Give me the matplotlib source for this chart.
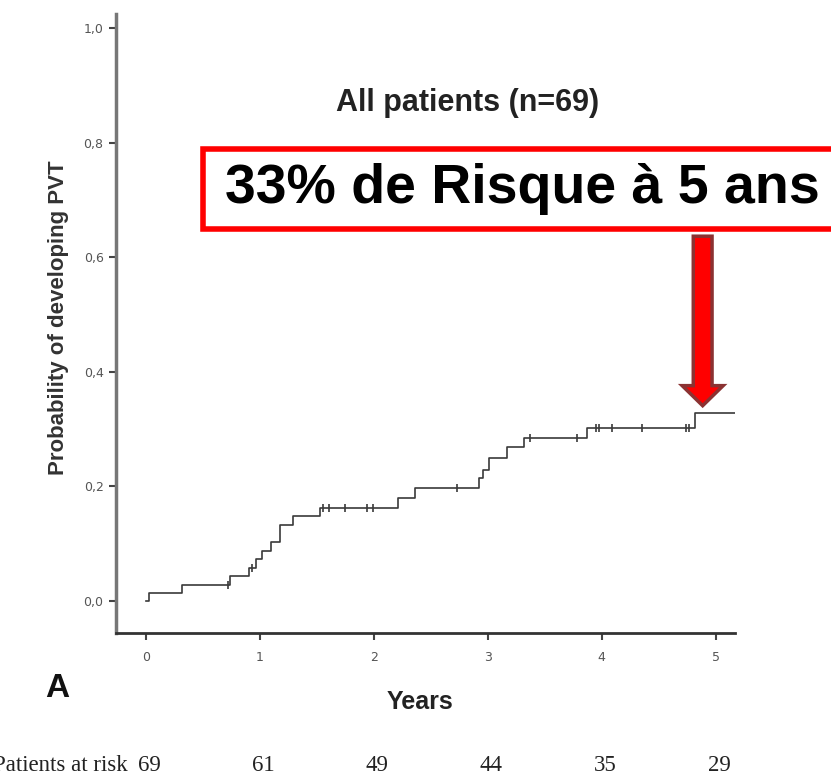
import matplotlib
matplotlib.use("Agg")
import matplotlib.pyplot as plt
from matplotlib.patches import Rectangle, FancyArrow
from matplotlib.ticker import FuncFormatter
import matplotlib.transforms as mtransforms

# Kaplan-Meier steps (cumulative probability of PVT)
event_years = [0.0, 0.03, 0.32, 0.74, 0.90, 0.97, 1.015, 1.10, 1.175, 1.29, 1.53,
               2.21, 2.36, 2.92, 2.96, 3.01, 3.17, 3.32, 3.87, 4.82, 5.17]
cum_prob = [0.0, 0.014, 0.028, 0.043, 0.058, 0.073, 0.088, 0.103, 0.133, 0.148, 0.162,
            0.179, 0.198, 0.214, 0.229, 0.250, 0.268, 0.284, 0.302, 0.328, 0.328]

# censored patients
censor_years = [0.72, 0.93, 1.55, 1.61, 1.745, 1.94, 1.99, 2.73, 3.37, 3.78,
                3.95, 3.98, 4.09, 4.35, 4.74, 4.77]
censor_prob = [0.028, 0.058, 0.162, 0.162, 0.162, 0.162, 0.162, 0.198, 0.284, 0.284,
               0.302, 0.302, 0.302, 0.302, 0.302, 0.302]

year_ticks = [0, 1, 2, 3, 4, 5]
at_risk = [69, 61, 49, 44, 35, 29]
prob_ticks = [0.0, 0.2, 0.4, 0.6, 0.8, 1.0]

risk_5y = 0.33

fig = plt.figure(figsize=(8.31, 7.84), dpi=100)
ax = fig.add_axes([0.1396, 0.1926, 0.7449, 0.7895])

ax.step(event_years, cum_prob, where="post", color="#3a3a3a", lw=1.2)
ax.plot(censor_years, censor_prob, linestyle="none", marker="|", color="#3a3a3a",
        markersize=6, markeredgewidth=1.2)

ax.set_xlim(-0.263, 5.17)
ax.set_ylim(-0.056, 1.025)
ax.set_xticks(year_ticks)
ax.set_yticks(prob_ticks)
ax.yaxis.set_major_formatter(FuncFormatter(lambda v, p: f"{v:.1f}".replace(".", ",")))
ax.tick_params(axis="both", direction="out", length=5, width=1.5, color="#444444",
               labelsize=9, labelcolor="#555555")
ax.tick_params(axis="x", pad=8)
ax.tick_params(axis="y", pad=4)

for side in ("top", "right"):
    ax.spines[side].set_visible(False)
ax.spines["left"].set_color("#777777")
ax.spines["left"].set_linewidth(2.5)
ax.spines["bottom"].set_color("#333333")
ax.spines["bottom"].set_linewidth(2.0)

ax.set_ylabel("Probability of developing PVT", fontsize=16, fontweight="bold",
              family="Liberation Sans", color="#333333")
ax.yaxis.set_label_coords(-0.076, 0.509)

fig.text(0.563, 0.868, "All patients (n=69)", ha="center", va="center", fontsize=22,
         fontweight="bold", family="Liberation Sans", color="#222222")

fig.text(0.506, 0.105, "Years", ha="center", va="center", fontsize=18,
         fontweight="bold", family="Liberation Sans", color="#222222")
fig.text(0.054, 0.122, "A", ha="left", va="center", fontsize=24,
         fontweight="bold", family="Liberation Sans", color="#111111")

# number at risk row under the x axis
row = mtransforms.blended_transform_factory(ax.transData, fig.transFigure)
fig.text(0.154, 0.024, "Patients at risk", ha="right", va="center", fontsize=16.5,
         family="Liberation Serif", color="#222222")
for yr, n in zip(year_ticks, at_risk):
    ax.text(yr + 0.03, 0.024, str(n), transform=row, ha="center", va="center",
            fontsize=16.5, family="Liberation Serif", color="#222222", clip_on=False)

# callout box
fig.patches.append(Rectangle((0.2443, 0.7079), 0.80, 0.1020, transform=fig.transFigure,
                             facecolor="white", edgecolor="#ff0000", lw=4, zorder=5))
fig.text(0.271, 0.759, "33% de Risque à 5 ans", ha="left", va="center", fontsize=40,
         fontweight="bold", family="Liberation Sans", color="black", zorder=6)

# arrow pointing at the 5-year risk
arrow_top = 0.637
ax.add_patch(FancyArrow(4.886, arrow_top, 0, -(arrow_top - risk_5y - 0.011),
                        width=0.165, head_width=0.36, head_length=0.035,
                        length_includes_head=True, facecolor="#ff0000",
                        edgecolor="#8b3232", lw=2.5, zorder=4, clip_on=False))

fig.savefig("out.png", dpi=100)
